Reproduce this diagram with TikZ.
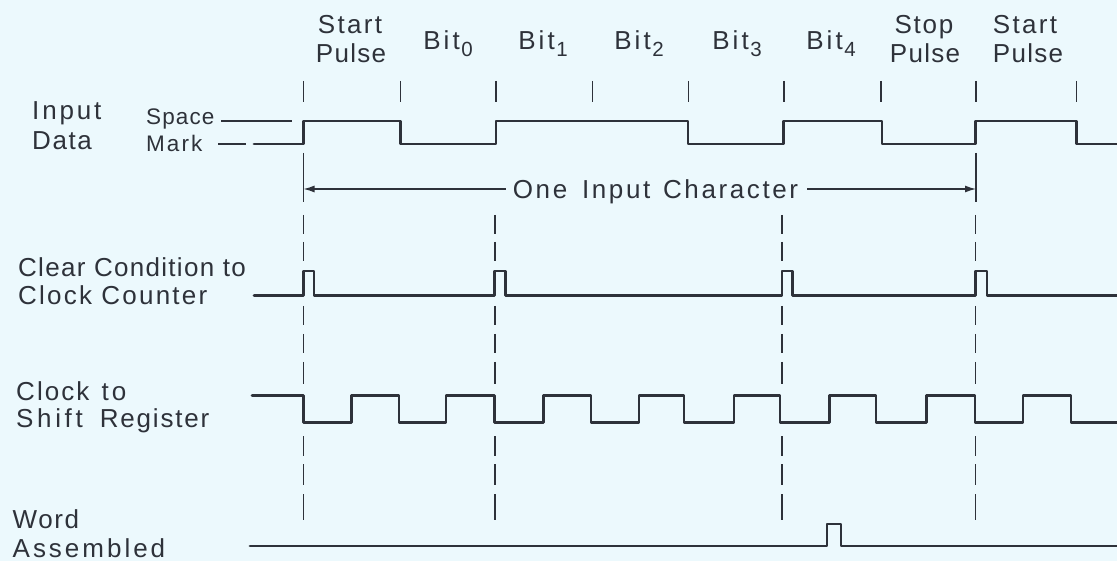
\documentclass[tikz,border=0pt]{standalone}
\usepackage{fontspec}
\setmainfont{Liberation Sans}[LetterSpace=5.0]
\usetikzlibrary{arrows.meta}
\definecolor{bg}{RGB}{236,249,253}
\definecolor{ink}{RGB}{46,50,58}
\newcommand{\sbs}[1]{\hspace{1.5pt}\raisebox{-7pt}{\fontsize{20.5}{20.5}\selectfont #1}}
\newcommand{\lsp}[1]{\addfontfeature{LetterSpace=#1}}
\begin{document}
\begin{tikzpicture}[x=1pt,y=-1pt,
  wave/.style={ink,line width=2.7pt,line join=round,line cap=round},
  thinline/.style={ink,line width=1.4pt},
  arr/.style={ink,line width=1.3pt,-{Latex[length=11pt,width=7pt]}},
  lbl/.style={text=ink,font=\fontsize{26}{26}\selectfont,inner sep=0pt,anchor=base west},
  toplbl/.style={text=ink,font=\fontsize{26}{26}\selectfont,inner sep=0pt,anchor=base},
  lvl/.style={text=ink,font=\fontsize{22.5}{22.5}\selectfont,inner sep=0pt,anchor=base west}]
\fill[bg] (0,0) rectangle (1117,561);
\useasboundingbox (0,0) rectangle (1117,561);

% top labels
\node[toplbl] (st1a) at (350,33.3) {\lsp{9}Start};
\node[toplbl] (st1b) at (351,63) {Pulse};
\node[toplbl] (b0) at (448,50) {{\lsp{12}Bit}\sbs{0}};
\node[toplbl] (b1) at (543,50) {{\lsp{12}Bit}\sbs{1}};
\node[toplbl] (b2) at (639,50) {{\lsp{12}Bit}\sbs{2}};
\node[toplbl] (b3) at (737,50) {{\lsp{12}Bit}\sbs{3}};
\node[toplbl] (b4) at (831,50) {{\lsp{12}Bit}\sbs{4}};
\node[toplbl] (spa) at (924,33.3) {\lsp{7}Stop};
\node[toplbl] (spb) at (925,63) {Pulse};
\node[toplbl] (st2a) at (1025,33.3) {\lsp{9}Start};
\node[toplbl] (st2b) at (1028,63) {Pulse};

% ticks
\foreach \x in {303.5,400.5,496,592.5,688.5,784,881,976,1076.6}
  \draw[thinline] (\x,81) -- (\x,102);

% left labels
\node[lbl] (in1) at (32,120) {\lsp{11}Input};
\node[lbl] (in2) at (32,150) {\lsp{6}Data};
\node[lvl] (sp) at (146,125) {Space};
\node[lvl] (mk) at (146,151.5) {\lsp{9}Mark};
\node[lbl] (cl1) at (18,276.7) {Clear Condition to};
\node[lbl] (cl2) at (18,305) {\lsp{8.5}Clock Counter};
\node[lbl] (ck1) at (16,400) {{\lsp{8}Clock}\hspace{12pt}{\lsp{12}to}};
\node[lbl] (ck2) at (16,428) {{\lsp{14}Shift}\hspace{17pt}{\lsp{7}Register}};
\node[lbl] (wd1) at (12.5,528) {\lsp{6}Word};
\node[lbl] (wd2) at (12.5,557) {\lsp{11.5}Assembled};

% level markers
\draw[thinline] (221,121) -- (292,121);
\draw[thinline] (218,144) -- (246,144);

% input data
\draw[wave] (254,144) -| (303.5,121) -| (400.5,144) -| (496,121) -| (688,144)
  -| (783.5,121) -| (882,144) -| (975.6,121) -| (1076.6,144) -- (1118,144);

% one input character
\coordinate (e1) at (303.5,189);
\coordinate (e2) at (976,189);
\draw[thinline] (303.5,153) -- (303.5,202);
\draw[thinline] (976,153) -- (976,202);
\node[toplbl] (chr) at (655.5,198.5) {\lsp{10}One\hspace{5pt} Input\hspace{3pt} Character};
\draw[arr] ([xshift=-7pt]chr.west |- e1) -- (e1);
\draw[arr] ([xshift=9pt]chr.east |- e2) -- (e2);

% dashed alignment lines
\foreach \x in {303.5,495,782,975.5}
  \foreach \a/\b in {215/234,242/261,306/325,334/353,362/384,436/456,464/485,494/520}
    \draw[thinline] (\x,\a) -- (\x,\b);

% clear condition
\draw[wave] (254,295.5) -| (303.5,271) -| (314,295.5) -| (494.8,271) -| (505.5,295.5)
  -| (782,271) -| (792.7,295.5) -| (975.6,271) -| (987,295.5) -- (1118,295.5);

% clock
\draw[wave] (252,395.5) -| (303.5,422.5) -| (351.8,395.5) -| (399,422.5) -| (446,395.5)
  -| (494.6,422.5) -| (543.6,395.5) -| (591,422.5) -| (639,395.5) -| (684,422.5)
  -| (734,395.5) -| (780,422.5) -| (829.5,395.5) -| (876,422.5) -| (926.6,395.5)
  -| (975,422.5) -| (1023,395.5) -| (1071,422.5) -- (1118,422.5);

% word assembled
\draw[wave] (250,546) -| (827,524) -| (841,546) -- (1118,546);
\end{tikzpicture}
\end{document}
